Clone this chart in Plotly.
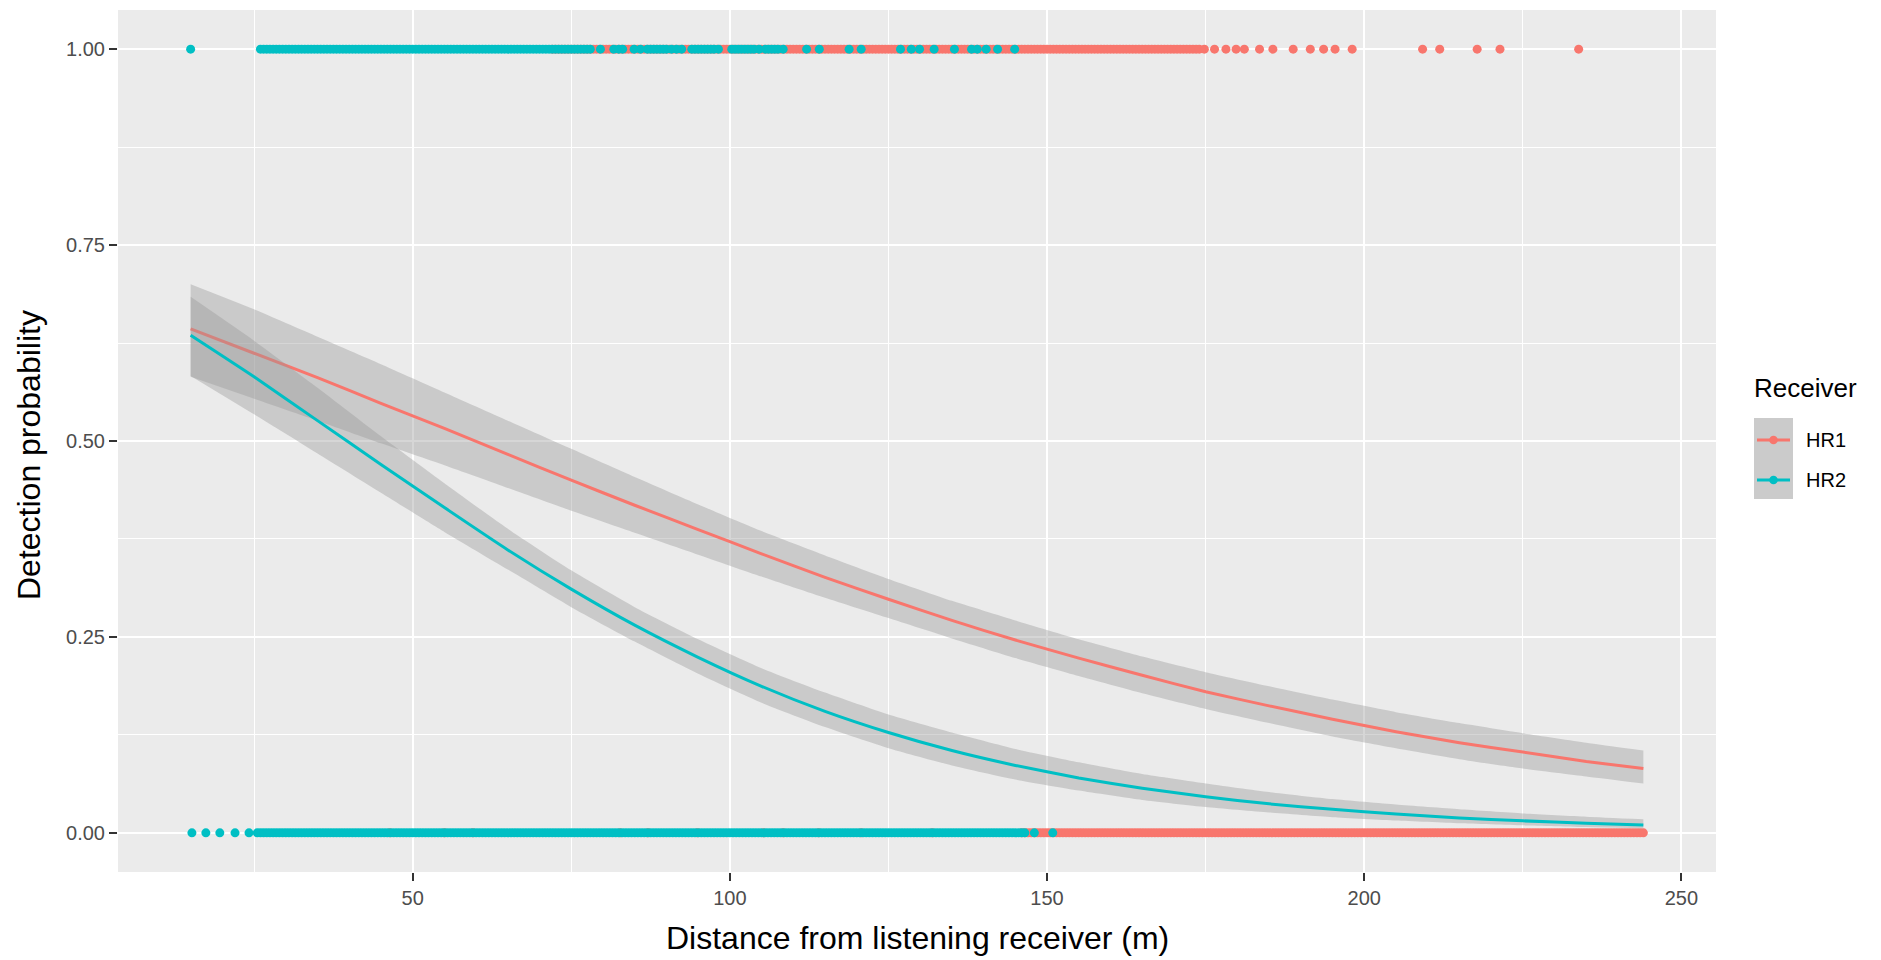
import plotly.graph_objects as go

# ---- detections (y = 1) and non-detections (y = 0), distance in metres ----
hr1_detected_m = [
    72, 72.5, 73, 73.5, 74, 74.5, 75, 75.5, 76, 76.5, 77, 77.5, 78, 78.5, 79, 79.5, 80, 80.5, 81, 81.5,
    82, 82.5, 83, 83.5, 84, 84.5, 85, 85.5, 86, 86.5, 87, 87.5, 88, 88.5, 89, 89.5, 90, 90.5, 91, 91.5,
    92, 92.5, 93, 93.5, 94, 94.5, 95, 95.5, 96, 96.5, 97, 97.5, 98, 98.5, 99, 99.5, 100, 100.5, 101, 101.5,
    102, 102.5, 103, 103.5, 104, 104.5, 105, 105.5, 106, 106.5, 107, 107.5, 108, 108.5, 109, 109.5, 110, 110.5, 111, 111.5,
    112, 112.5, 113, 113.5, 114, 114.5, 115, 115.5, 116, 116.5, 117, 117.5, 118, 118.5, 119, 119.5, 120, 120.5, 121, 121.5,
    122, 122.5, 123, 123.5, 124, 124.5, 125, 125.5, 126, 126.5, 127, 127.5, 128, 128.5, 129, 129.5, 130, 130.5, 131, 131.5,
    132, 132.5, 133, 133.5, 134, 134.5, 135, 135.5, 136, 136.5, 137, 137.5, 138, 138.5, 139, 139.5, 140, 140.5, 141, 141.5,
    142, 142.5, 143, 143.5, 144, 144.5, 145, 145.5, 146, 146.5, 147, 147.5, 148, 148.5, 149, 149.5, 150, 150.5, 151, 151.5,
    152, 152.5, 153, 153.5, 154, 154.5, 155, 155.5, 156, 156.5, 157, 157.5, 158, 158.5, 159, 159.5, 160, 160.5, 161, 161.5,
    162, 162.5, 163, 163.5, 164, 164.5, 165, 165.5, 166, 166.5, 167, 167.5, 168, 168.5, 169, 169.5, 170, 170.5, 171, 171.5,
    172, 172.5, 173, 173.5, 174,
    174.8, 176.4, 178.2, 179.8, 181.1, 183.5, 185.6, 188.8, 191.5, 193.6, 195.4, 198.1,
    209.2, 211.9, 217.8, 221.4, 233.8,
]
hr1_missed_m = [
    46.4, 55.0, 59.5, 82.7, 87.1, 94.9, 105.3, 108.4, 114.0, 120.7, 131.9,
    146, 146.5, 147, 147.5, 148, 148.5, 149, 149.5, 150, 150.5, 151, 151.5,
    152, 152.5, 153, 153.5, 154, 154.5, 155, 155.5, 156, 156.5, 157, 157.5, 158, 158.5, 159, 159.5, 160, 160.5, 161, 161.5,
    162, 162.5, 163, 163.5, 164, 164.5, 165, 165.5, 166, 166.5, 167, 167.5, 168, 168.5, 169, 169.5, 170, 170.5, 171, 171.5,
    172, 172.5, 173, 173.5, 174, 174.5, 175, 175.5, 176, 176.5, 177, 177.5, 178, 178.5, 179, 179.5, 180, 180.5, 181, 181.5,
    182, 182.5, 183, 183.5, 184, 184.5, 185, 185.5, 186, 186.5, 187, 187.5, 188, 188.5, 189, 189.5, 190, 190.5, 191, 191.5,
    192, 192.5, 193, 193.5, 194, 194.5, 195, 195.5, 196, 196.5, 197, 197.5, 198, 198.5, 199, 199.5, 200, 200.5, 201, 201.5,
    202, 202.5, 203, 203.5, 204, 204.5, 205, 205.5, 206, 206.5, 207, 207.5, 208, 208.5, 209, 209.5, 210, 210.5, 211, 211.5,
    212, 212.5, 213, 213.5, 214, 214.5, 215, 215.5, 216, 216.5, 217, 217.5, 218, 218.5, 219, 219.5, 220, 220.5, 221, 221.5,
    222, 222.5, 223, 223.5, 224, 224.5, 225, 225.5, 226, 226.5, 227, 227.5, 228, 228.5, 229, 229.5, 230, 230.5, 231, 231.5,
    232, 232.5, 233, 233.5, 234, 234.5, 235, 235.5, 236, 236.5, 237, 237.5, 238, 238.5, 239, 239.5, 240, 240.5, 241, 241.5,
    242, 242.5, 243, 243.5, 244,
]
hr2_detected_m = [
    15,
    26, 26.5, 27, 27.5, 28, 28.5, 29, 29.5, 30, 30.5, 31, 31.5,
    32, 32.5, 33, 33.5, 34, 34.5, 35, 35.5, 36, 36.5, 37, 37.5, 38, 38.5, 39, 39.5, 40, 40.5, 41, 41.5,
    42, 42.5, 43, 43.5, 44, 44.5, 45, 45.5, 46, 46.5, 47, 47.5, 48, 48.5, 49, 49.5, 50, 50.5, 51, 51.5,
    52, 52.5, 53, 53.5, 54, 54.5, 55, 55.5, 56, 56.5, 57, 57.5, 58, 58.5, 59, 59.5, 60, 60.5, 61, 61.5,
    62, 62.5, 63, 63.5, 64, 64.5, 65, 65.5, 66, 66.5, 67, 67.5, 68, 68.5, 69, 69.5, 70, 70.5, 71, 71.5,
    72, 72.5, 73, 73.5, 74, 74.5, 75, 75.5, 76, 76.5, 77, 77.5, 78,
    79.6, 81.7, 82.5, 83.1, 84.9, 85.9, 87.0, 87.5, 88.0, 88.5, 89.0, 89.5, 90.0, 90.8,
    91.6, 92.4, 94.0, 94.5, 95.0, 95.5, 96.0, 96.5, 97.0, 97.5, 98.2, 100.3, 100.8, 101.3, 101.8,
    102.3, 102.8, 103.3, 103.8, 104.6, 105.6, 106.1, 106.6, 107.1, 107.6, 108.4,
    112.1, 114.1, 118.8, 120.7, 126.9, 128.6, 129.9, 132.2, 135.4, 138.1, 139.0,
    140.4, 142.2, 144.9,
]
hr2_missed_m = [
    15.2, 17.4, 19.6, 22.0, 24.2,
    25.5, 26, 26.5, 27, 27.5, 28, 28.5, 29, 29.5, 30, 30.5, 31, 31.5,
    32, 32.5, 33, 33.5, 34, 34.5, 35, 35.5, 36, 36.5, 37, 37.5, 38, 38.5, 39, 39.5, 40, 40.5, 41, 41.5,
    42, 42.5, 43, 43.5, 44, 44.5, 45, 45.5, 46, 46.5, 47, 47.5, 48, 48.5, 49, 49.5, 50, 50.5, 51, 51.5,
    52, 52.5, 53, 53.5, 54, 54.5, 55, 55.5, 56, 56.5, 57, 57.5, 58, 58.5, 59, 59.5, 60, 60.5, 61, 61.5,
    62, 62.5, 63, 63.5, 64, 64.5, 65, 65.5, 66, 66.5, 67, 67.5, 68, 68.5, 69, 69.5, 70, 70.5, 71, 71.5,
    72, 72.5, 73, 73.5, 74, 74.5, 75, 75.5, 76, 76.5, 77, 77.5, 78, 78.5, 79, 79.5, 80, 80.5, 81, 81.5,
    82, 82.5, 83, 83.5, 84, 84.5, 85, 85.5, 86, 86.5, 87, 87.5, 88, 88.5, 89, 89.5, 90, 90.5, 91, 91.5,
    92, 92.5, 93, 93.5, 94, 94.5, 95, 95.5, 96, 96.5, 97, 97.5, 98, 98.5, 99, 99.5, 100, 100.5, 101, 101.5,
    102, 102.5, 103, 103.5, 104, 104.5, 105, 105.5, 106, 106.5, 107, 107.5, 108, 108.5, 109, 109.5, 110, 110.5, 111, 111.5,
    112, 112.5, 113, 113.5, 114, 114.5, 115, 115.5, 116, 116.5, 117, 117.5, 118, 118.5, 119, 119.5, 120, 120.5, 121, 121.5,
    122, 122.5, 123, 123.5, 124, 124.5, 125, 125.5, 126, 126.5, 127, 127.5, 128, 128.5, 129, 129.5, 130, 130.5, 131, 131.5,
    132, 132.5, 133, 133.5, 134, 134.5, 135, 135.5, 136, 136.5, 137, 137.5, 138, 138.5, 139, 139.5, 140, 140.5, 141, 141.5,
    142, 142.5, 143, 143.5, 144, 144.5, 145, 145.5, 146, 146.5,
    148.0, 150.9,
]

# ---- fitted logistic curves with 95% confidence band ----
fit_x = [15, 25, 35, 45, 55, 65, 75, 85, 95, 105, 115, 125, 135, 145, 155, 165,
         175, 185, 195, 205, 215, 225, 235, 244]

hr1_fit = [0.643, 0.612, 0.581, 0.548, 0.516, 0.483, 0.450, 0.418, 0.387, 0.356,
           0.326, 0.298, 0.271, 0.246, 0.223, 0.201, 0.180, 0.162, 0.145, 0.129,
           0.115, 0.103, 0.091, 0.082]
hr1_hi = [0.700, 0.668, 0.633, 0.598, 0.562, 0.526, 0.490, 0.454, 0.419, 0.385,
          0.354, 0.324, 0.296, 0.271, 0.247, 0.225, 0.205, 0.187, 0.170, 0.154,
          0.140, 0.127, 0.115, 0.105]
hr1_lo = [0.582, 0.554, 0.526, 0.497, 0.469, 0.440, 0.411, 0.383, 0.355, 0.327,
          0.300, 0.274, 0.248, 0.223, 0.200, 0.178, 0.158, 0.140, 0.123, 0.108,
          0.094, 0.082, 0.072, 0.063]

hr2_fit = [0.635, 0.582, 0.526, 0.470, 0.415, 0.361, 0.311, 0.265, 0.224, 0.187,
           0.155, 0.128, 0.105, 0.086, 0.070, 0.057, 0.046, 0.037, 0.030, 0.024,
           0.019, 0.0153, 0.0123, 0.0101]
hr2_hi = [0.684, 0.628, 0.568, 0.506, 0.446, 0.388, 0.335, 0.288, 0.247, 0.210,
          0.179, 0.151, 0.128, 0.107, 0.090, 0.075, 0.063, 0.052, 0.043, 0.036,
          0.030, 0.0247, 0.0205, 0.0172]
hr2_lo = [0.583, 0.534, 0.484, 0.434, 0.384, 0.336, 0.288, 0.244, 0.203, 0.166,
          0.135, 0.108, 0.086, 0.068, 0.054, 0.042, 0.033, 0.026, 0.020, 0.0157,
          0.0122, 0.0095, 0.0074, 0.0059]

receivers = ["HR1", "HR2"]
colors = {"HR1": "#F8766D", "HR2": "#00BFC4"}

x_ticks = [50, 100, 150, 200, 250]
y_ticks = [0, 0.25, 0.5, 0.75, 1]
y_tick_text = ["0.00", "0.25", "0.50", "0.75", "1.00"]

# ---- page geometry ----
W, H = 1881, 960
ML, MR, MT, MB = 118, 165, 10, 88
PW, PH = W - ML - MR, H - MT - MB


def px(x):
    return (x - ML) / PW


def py(y):
    return (H - MB - y) / PH


FONT = "Liberation Sans, Arial, sans-serif"
BAND = "rgba(153,153,153,0.4)"

fig = go.Figure()

# raw observations, HR1 first then HR2 on top
points = {
    "HR1": (hr1_missed_m, hr1_detected_m),
    "HR2": (hr2_missed_m, hr2_detected_m),
}
for r in receivers:
    missed, detected = points[r]
    fig.add_trace(go.Scatter(
        x=list(missed) + list(detected),
        y=[0] * len(missed) + [1] * len(detected),
        mode="markers",
        marker=dict(color=colors[r], size=9, line=dict(width=0)),
        showlegend=False, hoverinfo="skip",
    ))

# smoothers: ribbon then line for each receiver
curves = {
    "HR1": (hr1_fit, hr1_lo, hr1_hi),
    "HR2": (hr2_fit, hr2_lo, hr2_hi),
}
for r in receivers:
    fit, lo, hi = curves[r]
    fig.add_trace(go.Scatter(
        x=fit_x, y=hi, mode="lines",
        line=dict(width=0, shape="spline", smoothing=0.5),
        showlegend=False, hoverinfo="skip",
    ))
    fig.add_trace(go.Scatter(
        x=fit_x, y=lo, mode="lines", fill="tonexty", fillcolor=BAND,
        line=dict(width=0, shape="spline", smoothing=0.5),
        showlegend=False, hoverinfo="skip",
    ))
    fig.add_trace(go.Scatter(
        x=fit_x, y=fit, mode="lines",
        line=dict(color=colors[r], width=3, shape="spline", smoothing=0.5),
        showlegend=False, name=r,
    ))

# ---- hand-built legend ----
shapes = [dict(type="rect", xref="paper", yref="paper",
               x0=px(1754), x1=px(1793), y0=py(499), y1=py(418),
               fillcolor="#CBCBCB", line=dict(width=0), layer="above")]
annotations = [dict(text="Receiver", xref="paper", yref="paper",
                    x=px(1752), y=py(388), xanchor="left", yanchor="middle",
                    showarrow=False, font=dict(family=FONT, size=26, color="black"))]
for r, yk in zip(receivers, [440, 480]):
    shapes.append(dict(type="line", xref="paper", yref="paper",
                       x0=px(1757), x1=px(1790), y0=py(yk), y1=py(yk),
                       line=dict(color=colors[r], width=3), layer="above"))
    shapes.append(dict(type="circle", xref="paper", yref="paper",
                       x0=px(1769.2), x1=px(1777.8), y0=py(yk + 4.3), y1=py(yk - 4.3),
                       fillcolor=colors[r], line=dict(width=0), layer="above"))
    annotations.append(dict(text=r, xref="paper", yref="paper",
                            x=px(1804), y=py(yk), xanchor="left", yanchor="middle",
                            showarrow=False,
                            font=dict(family=FONT, size=20, color="black")))

# axis titles
annotations.append(dict(text="Distance from listening receiver (m)",
                        xref="paper", yref="paper", x=0.5, y=py(938),
                        xanchor="center", yanchor="middle", showarrow=False,
                        font=dict(family=FONT, size=32, color="black")))
annotations.append(dict(text="Detection probability", textangle=-90,
                        xref="paper", yref="paper", x=px(29), y=py(455),
                        xanchor="center", yanchor="middle", showarrow=False,
                        font=dict(family=FONT, size=32, color="black")))

axis_common = dict(
    showgrid=True, gridcolor="white", gridwidth=2.2,
    zeroline=False, showline=False,
    ticks="outside", ticklen=8, tickwidth=1.5, tickcolor="#333333",
    tickfont=dict(family=FONT, size=20, color="#4D4D4D"),
)

fig.update_layout(
    width=W, height=H,
    margin=dict(l=ML, r=MR, t=MT, b=MB, pad=0),
    paper_bgcolor="white", plot_bgcolor="#EBEBEB",
    showlegend=False,
    xaxis=dict(range=[3.55, 255.45], tickvals=x_ticks,
               minor=dict(tickvals=[25, 75, 125, 175, 225], showgrid=True,
                          gridcolor="white", gridwidth=1.1, ticks=""),
               **axis_common),
    yaxis=dict(range=[-0.05, 1.05], tickvals=y_ticks, ticktext=y_tick_text,
               minor=dict(tickvals=[0.125, 0.375, 0.625, 0.875], showgrid=True,
                          gridcolor="white", gridwidth=1.1, ticks=""),
               **axis_common),
    shapes=shapes,
    annotations=annotations,
)

fig.write_html("out.html")
